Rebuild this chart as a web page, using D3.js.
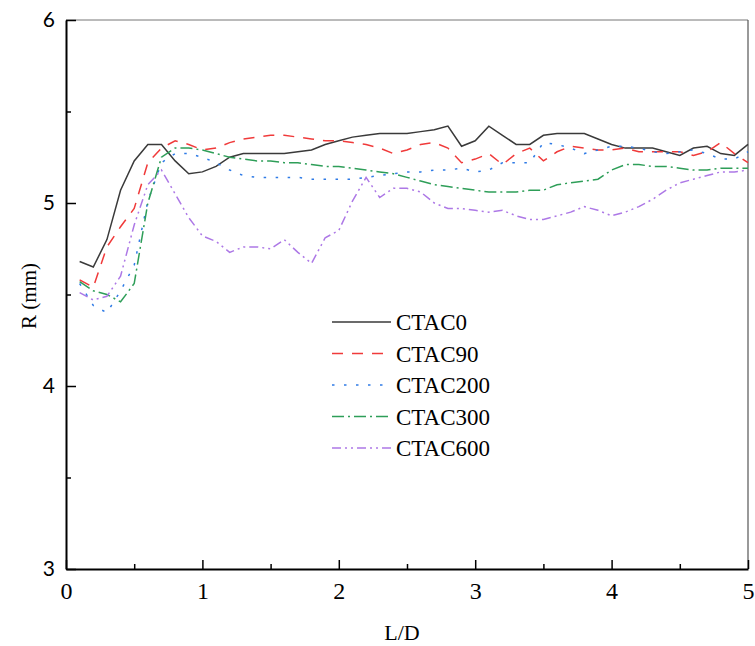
<!DOCTYPE html>
<html>
<head>
<meta charset="utf-8">
<script src="https://cdn.jsdelivr.net/npm/d3@7"></script>
<style>
  body { margin: 0; background: #fff; }
</style>
</head>
<body>
<div class="container"></div>
<script>
const WIDTH = 755;
const HEIGHT = 646;
const LEFT = 66, TOP = 20, RIGHT = 748, BOTTOM = 569;
const SERIF = "'Liberation Serif', 'DejaVu Serif', serif";
const SANS = "Lato, 'Liberation Sans', sans-serif";

var ld = [0.1, 0.2, 0.3, 0.4, 0.5, 0.6, 0.7, 0.8, 0.9, 1.0,
          1.1, 1.2, 1.3, 1.4, 1.5, 1.6, 1.7, 1.8, 1.9, 2.0,
          2.1, 2.2, 2.3, 2.4, 2.5, 2.6, 2.7, 2.8, 2.9, 3.0,
          3.1, 3.2, 3.3, 3.4, 3.5, 3.6, 3.7, 3.8, 3.9, 4.0,
          4.1, 4.2, 4.3, 4.4, 4.5, 4.6, 4.7, 4.8, 4.9, 5.0];

var ctac0 = [4.68, 4.65, 4.80, 5.07, 5.23, 5.32, 5.32, 5.23, 5.16, 5.17,
             5.20, 5.25, 5.27, 5.27, 5.27, 5.27, 5.28, 5.29, 5.32, 5.34,
             5.36, 5.37, 5.38, 5.38, 5.38, 5.39, 5.40, 5.42, 5.31, 5.34,
             5.42, 5.37, 5.32, 5.32, 5.37, 5.38, 5.38, 5.38, 5.35, 5.32,
             5.30, 5.30, 5.30, 5.28, 5.26, 5.30, 5.31, 5.27, 5.26, 5.32];

var ctac90 = [4.58, 4.54, 4.76, 4.87, 4.97, 5.22, 5.30, 5.34, 5.32, 5.29,
              5.30, 5.33, 5.35, 5.36, 5.37, 5.37, 5.36, 5.35, 5.34, 5.34,
              5.33, 5.32, 5.30, 5.27, 5.29, 5.32, 5.33, 5.30, 5.22, 5.24,
              5.27, 5.21, 5.27, 5.30, 5.23, 5.28, 5.31, 5.30, 5.29, 5.29,
              5.30, 5.28, 5.28, 5.28, 5.28, 5.26, 5.28, 5.33, 5.27, 5.22];

var ctac200 = [4.56, 4.44, 4.40, 4.52, 4.66, 5.01, 5.22, 5.27, 5.27, 5.25,
               5.22, 5.18, 5.15, 5.14, 5.14, 5.14, 5.14, 5.13, 5.13, 5.13,
               5.13, 5.14, 5.15, 5.16, 5.17, 5.17, 5.18, 5.18, 5.19, 5.17,
               5.18, 5.22, 5.22, 5.22, 5.33, 5.32, 5.30, 5.27, 5.29, 5.31,
               5.31, 5.30, 5.28, 5.27, 5.28, 5.29, 5.27, 5.24, 5.24, 5.28];

var ctac300 = [4.57, 4.52, 4.50, 4.46, 4.56, 5.00, 5.25, 5.30, 5.30, 5.29,
               5.27, 5.25, 5.24, 5.23, 5.23, 5.22, 5.22, 5.21, 5.20, 5.20,
               5.19, 5.18, 5.17, 5.16, 5.14, 5.12, 5.10, 5.09, 5.08, 5.07,
               5.06, 5.06, 5.06, 5.07, 5.07, 5.10, 5.11, 5.12, 5.13, 5.18,
               5.21, 5.21, 5.20, 5.20, 5.19, 5.18, 5.18, 5.19, 5.19, 5.19];

var ctac600 = [4.51, 4.47, 4.49, 4.60, 4.88, 5.10, 5.18, 5.05, 4.92, 4.82,
               4.79, 4.73, 4.76, 4.76, 4.75, 4.80, 4.73, 4.67, 4.81, 4.85,
               5.01, 5.14, 5.03, 5.08, 5.08, 5.06, 5.00, 4.97, 4.97, 4.96,
               4.95, 4.96, 4.93, 4.91, 4.91, 4.93, 4.95, 4.98, 4.96, 4.93,
               4.95, 4.98, 5.02, 5.07, 5.11, 5.13, 5.15, 5.17, 5.17, 5.18];

var seriesNames = ["CTAC0", "CTAC90", "CTAC200", "CTAC300", "CTAC600"];
var seriesValues = [ctac0, ctac90, ctac200, ctac300, ctac600];

var xTicks = [0, 1, 2, 3, 4, 5];
var xMinorTicks = [0.5, 1.5, 2.5, 3.5, 4.5];
var yTicks = [3, 4, 5, 6];
var yMinorTicks = [3.5, 4.5, 5.5];

var styles = [
    { color: "#3a3a3a", dash: null },
    { color: "#f03a3a", dash: "11,9" },
    { color: "#2f7be6", dash: "2.5,9.5" },
    { color: "#2e9e58", dash: "12,4,2,4" },
    { color: "#ad78e6", dash: "9,4,2,4,2,4" }
];

var translate = function (x, y) {
    return "translate(" + x + "," + y + ")";
};

var svg = d3.select(".container").append("svg")
    .attr("width", WIDTH)
    .attr("height", HEIGHT);

var xScale = d3.scaleLinear().domain([0, 5]).range([LEFT, RIGHT]);
var yScale = d3.scaleLinear().domain([3, 6]).range([BOTTOM, TOP]);

// frame: top and right thin
svg.append("line")
    .attr("x1", LEFT).attr("x2", RIGHT).attr("y1", TOP).attr("y2", TOP)
    .attr("stroke", "#777").attr("stroke-width", 1);
svg.append("line")
    .attr("x1", RIGHT).attr("x2", RIGHT).attr("y1", TOP).attr("y2", BOTTOM)
    .attr("stroke", "#555").attr("stroke-width", 1.2);

// curves
var line = d3.line()
    .x(function (d, i) { return xScale(ld[i]); })
    .y(function (d) { return yScale(d); });

seriesValues.forEach(function (vals, k) {
    svg.append("path")
        .attr("d", line(vals))
        .attr("fill", "none")
        .attr("stroke", styles[k].color)
        .attr("stroke-width", 1.5)
        .attr("stroke-dasharray", styles[k].dash);
});

// axes
var styleAxis = function (font, size) {
    return function (g) {
        g.select(".domain").attr("stroke", "#000").attr("stroke-width", 2);
        g.selectAll(".tick line").attr("stroke", "#000").attr("stroke-width", 1.5);
        g.selectAll(".tick text")
            .attr("fill", "#000")
            .style("font-family", font)
            .style("font-size", size + "px");
    };
};

var xAxis = d3.axisBottom(xScale).tickValues(xTicks).tickSizeInner(-9).tickSizeOuter(0)
    .tickPadding(13).tickFormat(d3.format("d"));
svg.append("g").attr("transform", translate(0, BOTTOM)).call(xAxis).call(styleAxis(SERIF, 24));

var xMinor = d3.axisBottom(xScale).tickValues(xMinorTicks).tickSize(-5).tickFormat("");
svg.append("g").attr("transform", translate(0, BOTTOM)).call(xMinor).call(function (g) {
    g.select(".domain").remove();
    g.selectAll(".tick line").attr("stroke", "#000").attr("stroke-width", 1.5);
});

var yAxis = d3.axisLeft(yScale).tickValues(yTicks).tickSizeInner(-10).tickSizeOuter(0)
    .tickPadding(11).tickFormat(d3.format("d"));
svg.append("g").attr("transform", translate(LEFT, 0)).call(yAxis).call(styleAxis(SANS, 21));

var yMinor = d3.axisLeft(yScale).tickValues(yMinorTicks).tickSize(-5).tickFormat("");
svg.append("g").attr("transform", translate(LEFT, 0)).call(yMinor).call(function (g) {
    g.select(".domain").remove();
    g.selectAll(".tick line").attr("stroke", "#000").attr("stroke-width", 1.5);
});

// axis titles
svg.append("text")
    .attr("x", 402)
    .attr("y", 640)
    .attr("text-anchor", "middle")
    .style("font-family", SERIF)
    .style("font-size", "22px")
    .text("L/D");

svg.append("text")
    .attr("transform", translate(36, 296) + " rotate(-90)")
    .attr("text-anchor", "middle")
    .style("font-family", SERIF)
    .style("font-size", "21px")
    .text("R (mm)");

// legend
var legend = svg.append("g").attr("transform", translate(332, 322));
seriesNames.forEach(function (name, k) {
    var row = legend.append("g").attr("transform", translate(0, k * 31.5));
    row.append("line")
        .attr("x1", 0).attr("x2", 59).attr("y1", 0).attr("y2", 0)
        .attr("stroke", styles[k].color)
        .attr("stroke-width", 1.5)
        .attr("stroke-dasharray", styles[k].dash);
    row.append("text")
        .attr("x", 64).attr("y", 8)
        .style("font-family", SERIF)
        .style("font-size", "23px")
        .text(name);
});
</script>
</body>
</html>
